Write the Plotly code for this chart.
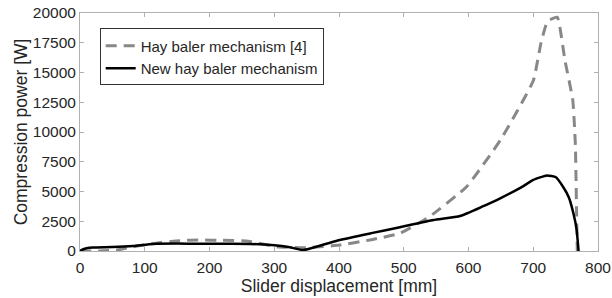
import plotly.graph_objects as go

# Hay baler mechanism [4] (dashed)
old_x = [0, 30, 57, 77, 113, 154, 185, 220, 260, 304, 350, 401, 450, 494, 540, 597, 649, 700, 712, 722, 737, 749, 761, 765, 767, 768]
old_y = [0, 0, 80, 300, 640, 870, 920, 900, 820, 360, 280, 500, 950, 1480, 2900, 5400, 9300, 14300, 17500, 19300, 19650, 16000, 12700, 9000, 3000, 0]

# New hay baler mechanism (solid)
new_x = [0, 5, 10, 20, 50, 82, 113, 150, 185, 230, 263, 300, 324, 345, 401, 450, 494, 546, 587, 620, 649, 680, 700, 721, 735, 746, 755, 762, 767, 770]
new_y = [0, 150, 230, 290, 330, 420, 590, 620, 600, 600, 590, 480, 310, 80, 920, 1500, 2000, 2600, 2940, 3700, 4430, 5300, 5970, 6350, 6200, 5400, 4500, 3170, 1800, 0]

x_ticks = [0, 100, 200, 300, 400, 500, 600, 700, 800]
y_ticks = [0, 2500, 5000, 7500, 10000, 12500, 15000, 17500, 20000]

FONT = "Liberation Sans, Arial"

fig = go.Figure()
fig.add_trace(go.Scatter(x=old_x, y=old_y, mode="lines", name="Hay baler mechanism [4]",
                         line=dict(color="#888888", width=3, dash="11px,7px", shape="spline", smoothing=0.4)))
fig.add_trace(go.Scatter(x=new_x, y=new_y, mode="lines", name="New hay baler mechanism",
                         line=dict(color="#000000", width=2.5, shape="spline", smoothing=0.4)))

axis_common = dict(showgrid=False, zeroline=False, showline=True, linecolor="#b0b0b0", linewidth=1,
                   mirror="allticks", ticks="inside", ticklen=4, tickcolor="#b0b0b0", automargin=False,
                   ticklabeloverflow="allow",
                   tickfont=dict(family=FONT, size=15.5, color="#262626"))

fig.update_xaxes(range=[0, 800], tickvals=x_ticks, ticktext=[str(v) for v in x_ticks], ticklabelstandoff=2,
                 title=dict(text="Slider displacement [mm]", font=dict(family=FONT, size=17.5, color="#262626"), standoff=2),
                 **axis_common)
fig.update_yaxes(range=[0, 20000], tickvals=y_ticks, ticktext=[str(v) for v in y_ticks],
                 title=dict(text="Compression power [W]", font=dict(family=FONT, size=17.5, color="#262626"), standoff=0),
                 **axis_common)

fig.update_layout(
    width=612, height=298,
    margin=dict(l=80, r=14, t=13, b=47),
    plot_bgcolor="white", paper_bgcolor="white",
    font=dict(family=FONT, color="#262626"),
    legend=dict(x=0.038, y=0.935, xanchor="left", yanchor="top",
                bordercolor="#333333", borderwidth=1, bgcolor="white",
                font=dict(size=15, color="#262626"), itemwidth=30,
                tracegroupgap=0),
    showlegend=True,
)

fig.write_html("out.html", config={"displayModeBar": False},
               post_script="document.body.style.margin='0';document.body.style.overflow='hidden';")
